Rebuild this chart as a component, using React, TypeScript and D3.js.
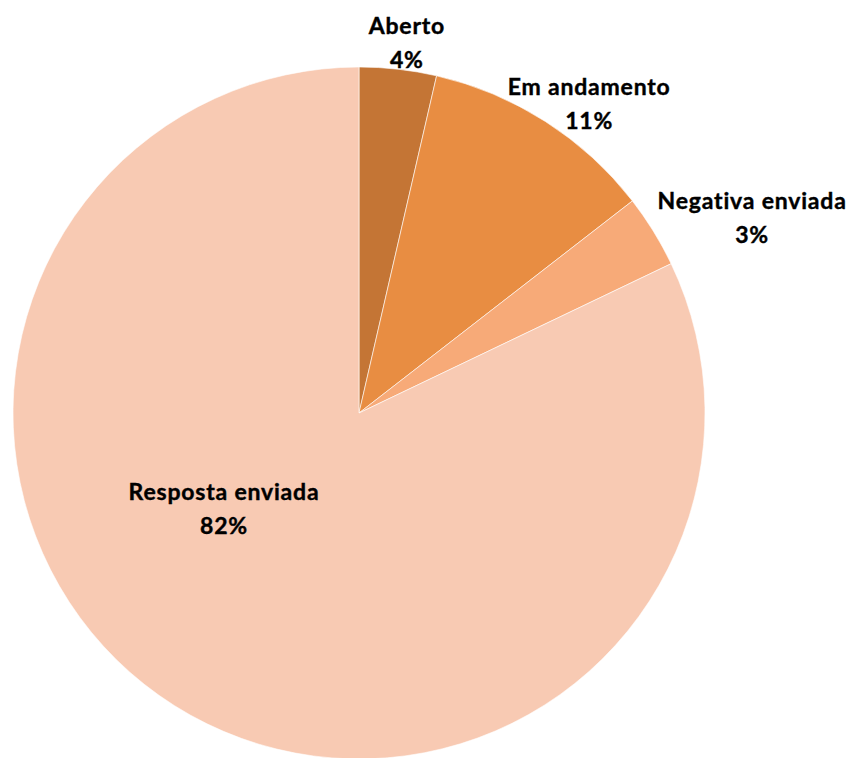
import React from "react";
import * as d3 from "d3";

const categories = ["Aberto", "Em andamento", "Negativa enviada", "Resposta enviada"];
const values = [3.6, 10.9, 3.4, 82.1];
const percentLabels = ["4%", "11%", "3%", "82%"];
const colors = ["#C47535", "#E88D42", "#F7AA78", "#F8CAB3"];
// label placement (polar, degrees clockwise from 12 o'clock, radius px) of first line baseline
const labelAngles = [7.2, 35.9, 62.6, 237.2];
const labelRadii = [382, 392.5, 442.8, 160.6];

const W = 850;
const H = 758;
const cx = 359;
const cy = 413;
const R = 346;

export default function App() {
  const pie = d3.pie<number>().sort(null).value((d) => d)(values);
  const arc = d3.arc<d3.PieArcDatum<number>>().innerRadius(0).outerRadius(R);
  return (
    <svg width={W} height={H} style={{ position: "absolute", left: 0, top: 0, background: "#fff" }}>
      <g transform={`translate(${cx},${cy})`}>
        {pie.map((p, i) => (
          <path key={i} d={arc(p) || ""} fill={colors[i]} stroke="#fff" strokeWidth={0.6} />
        ))}
        {categories.map((c, i) => {
          const a = (labelAngles[i] * Math.PI) / 180;
          const x = Math.sin(a) * labelRadii[i];
          const y = -Math.cos(a) * labelRadii[i];
          return (
            <text
              key={c}
              x={x}
              y={y}
              textAnchor="middle"
              fontFamily="Lato, 'Open Sans', sans-serif"
              fontWeight="bold"
              fontSize={23}
              letterSpacing={0.8}
              fill="#000"
              stroke="#000"
              strokeWidth={0.4}
            >
              <tspan x={x}>{c}</tspan>
              <tspan x={x} dy={34}>{percentLabels[i]}</tspan>
            </text>
          );
        })}
      </g>
    </svg>
  );
}
